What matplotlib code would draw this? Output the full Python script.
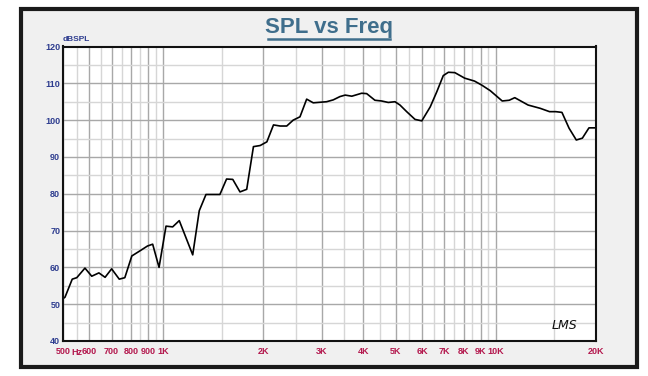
import numpy as np
import matplotlib
matplotlib.use("Agg")
import matplotlib.pyplot as plt
from matplotlib.patches import Rectangle

plt.rcParams["font.family"] = ["Liberation Sans", "DejaVu Sans"]

# ===== Dados =====
freq = [500, 507, 533, 550, 582, 610, 641, 669, 700, 738, 767, 805, 852, 897, 930,
        972, 1020, 1068, 1118, 1227, 1284, 1345, 1481, 1551, 1619, 1702, 1783,
        1868, 1957, 2050, 2146, 2247, 2352, 2460, 2578, 2700, 2826, 3100, 3245,
        3400, 3525, 3690, 3950, 4090, 4330, 4535, 4750, 4975, 5150, 5395, 5715,
        5990, 6350, 6645, 6950, 7200, 7530, 8060, 8630, 9075, 9620, 10450, 10970,
        11400, 12500, 13600, 14500, 15140, 15800, 16600, 17450, 18200, 19050, 20000]
spl = [51.5, 51.9, 56.8, 57.2, 59.8, 57.6, 58.5, 57.3, 59.6, 56.8, 57.2, 63.1, 64.5, 65.8, 66.3,
       60.0, 71.2, 71.0, 72.7, 63.4, 75.4, 79.8, 79.8, 84.0, 83.9, 80.5, 81.2,
       92.8, 93.1, 94.1, 98.7, 98.4, 98.4, 100.0, 100.9, 105.7, 104.7, 105.0, 105.5,
       106.4, 106.8, 106.5, 107.3, 107.2, 105.4, 105.2, 104.8, 105.0, 104.1, 102.3, 100.2,
       99.8, 103.6, 107.7, 112.1, 113.0, 112.9, 111.4, 110.6, 109.5, 108.0, 105.2, 105.4,
       106.1, 104.1, 103.2, 102.3, 102.3, 102.1, 97.8, 94.6, 95.1, 97.9, 97.9]

x_ticks = [500, 600, 700, 800, 900, 1000, 2000, 3000, 4000, 5000, 6000, 7000,
           8000, 9000, 10000, 20000]
x_labels = ["500", "600", "700", "800", "900", "1K", "2K", "3K", "4K", "5K", "6K",
            "7K", "8K", "9K", "10K", "20K"]
x_minor = [550, 650, 750, 850, 950, 1500, 2500, 3500, 4500, 5500, 6500, 7500,
           8500, 9500, 15000]
y_ticks = [40, 50, 60, 70, 80, 90, 100, 110, 120]
y_minor = [45, 55, 65, 75, 85, 95, 105, 115]

# ===== Figura =====
fig = plt.figure(figsize=(6.48, 3.76), dpi=100)
fig.patch.set_facecolor("white")

# moldura externa cinza
frame = Rectangle((21 / 648, 1 - 367 / 376), 616 / 648, 358 / 376,
                  transform=fig.transFigure, facecolor="#f0f0f0",
                  edgecolor="#1a1a1a", linewidth=3, zorder=-5)
fig.patches.append(frame)

ax = fig.add_axes([63 / 648, 1 - 341 / 376, 533 / 648, 294.5 / 376])
ax.set_zorder(2)
ax.set_facecolor("white")
ax.set_xscale("log")
ax.set_xlim(500, 20000)
ax.set_ylim(40, 120)

ax.set_xticks(x_ticks)
ax.set_xticklabels(x_labels)
ax.set_xticks(x_minor, minor=True)
ax.xaxis.set_minor_formatter(matplotlib.ticker.NullFormatter())
ax.set_yticks(y_ticks)
ax.set_yticks(y_minor, minor=True)

ax.tick_params(axis="both", which="both", length=0)
ax.tick_params(axis="x", colors="#b3174d", labelsize=6.5, pad=4)
ax.tick_params(axis="y", colors="#2e3d8f", labelsize=6.5, pad=2)
for lab in ax.get_xticklabels() + ax.get_yticklabels():
    lab.set_fontweight("bold")

ax.grid(True, which="major", color="#a8a8a8", linewidth=1.0)
ax.grid(True, which="minor", color="#d6d6d6", linewidth=1.0)
ax.set_axisbelow(True)
for s in ax.spines.values():
    s.set_linewidth(1.5)
    s.set_color("#111111")

ax.plot(freq, spl, color="black", linewidth=1.2)

# textos
ax.text(550, 38.2, "Hz", color="#b3174d", fontsize=6.5,
        fontweight="bold", ha="center", va="top")
ax.text(0.0, 1.012, "dBSPL", transform=ax.transAxes, color="#2e3d8f", fontsize=6,
        fontweight="bold", ha="left", va="bottom")
ax.text(0.965, 0.03, "LMS", transform=ax.transAxes, fontsize=9, fontstyle="italic",
        ha="right", va="bottom", color="#111111", family="DejaVu Sans",
        fontweight="light")

fig.text(329 / 648, 1 - 27 / 376, "SPL vs Freq", ha="center", va="center",
         fontsize=16, fontweight="bold", color="#3f6e8c")
fig.add_artist(plt.Line2D([268 / 648, 390 / 648], [1 - 39 / 376, 1 - 39 / 376],
                          color="#3f6e8c", linewidth=1.8))

fig.savefig("out.png", dpi=100)
